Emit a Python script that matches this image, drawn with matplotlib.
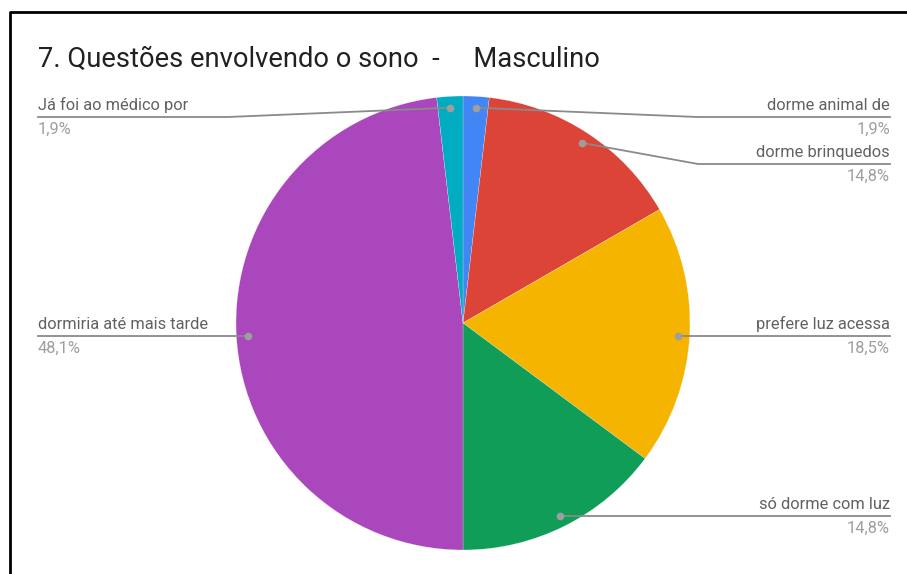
import numpy as np
import matplotlib.pyplot as plt

plt.rcParams['font.family'] = ['Roboto', 'DejaVu Sans']

categorias = ["dorme animal de", "dorme brinquedos", "prefere luz acessa",
              "só dorme com luz", "dormiria até mais tarde", "Já foi ao médico por"]
valores = [1, 8, 10, 8, 26, 1]
percentuais = ["1,9%", "14,8%", "18,5%", "14,8%", "48,1%", "1,9%"]
cores = ["#4285F4", "#DB4437", "#F4B400", "#0F9D58", "#AB47BC", "#00ACC1"]
titulo = "7. Questões envolvendo o sono  -     Masculino"

W, H = 907, 574
fig = plt.figure(figsize=(W / 100, H / 100), dpi=100)
ax = fig.add_axes([0, 0, 1, 1])

# moldura (só esquerda e topo visíveis)
ax.plot([10, 10, W + 5], [-5, H - 12, H - 12], color="black", lw=2, solid_capstyle="butt")

cx, cy, r = 463, H - 323, 227
wedges, _ = ax.pie(valores, colors=cores, startangle=90, counterclock=False,
                   center=(cx, cy), radius=r, frame=True,
                   wedgeprops=dict(edgecolor="white", linewidth=0.15))
ax.set_xlim(0, W)
ax.set_ylim(0, H)
ax.set_aspect("equal")
ax.axis("off")

# posições dos rótulos: (lado, y da linha, x da dobra)
rotulos = [("r", 117, 697), ("r", 164, 698), ("r", None, None),
           ("r", None, None), ("l", None, None), ("l", 117, 228)]

for w, cat, pct, (lado, ly, kx) in zip(wedges, categorias, percentuais, rotulos):
    ang = np.deg2rad((w.theta1 + w.theta2) / 2)
    dx = cx + 0.95 * r * np.cos(ang)
    dy = cy + 0.95 * r * np.sin(ang)
    ax.plot(dx, dy, "o", color="#9e9e9e", ms=4.5, zorder=5)
    xend = 890 if lado == "r" else 38
    if ly is None:
        yl = dy
        xs, ys = [dx, xend], [yl, yl]
    else:
        yl = H - ly
        xs, ys = [dx, kx, xend], [dy, yl, yl]
    ax.plot(xs, ys, color="#8a8a8a", lw=1.3, zorder=4)
    ha = "right" if lado == "r" else "left"
    ax.text(xend, yl + 4, cat, ha=ha, va="bottom", fontsize=11.8, color="#616161")
    ax.text(xend, yl - 5, pct, ha=ha, va="top", fontsize=11.8, color="#9e9e9e")

ax.text(38, H - 59, titulo, ha="left", va="center", fontsize=19.7, color="#212121")

fig.savefig("out.png", dpi=100)
